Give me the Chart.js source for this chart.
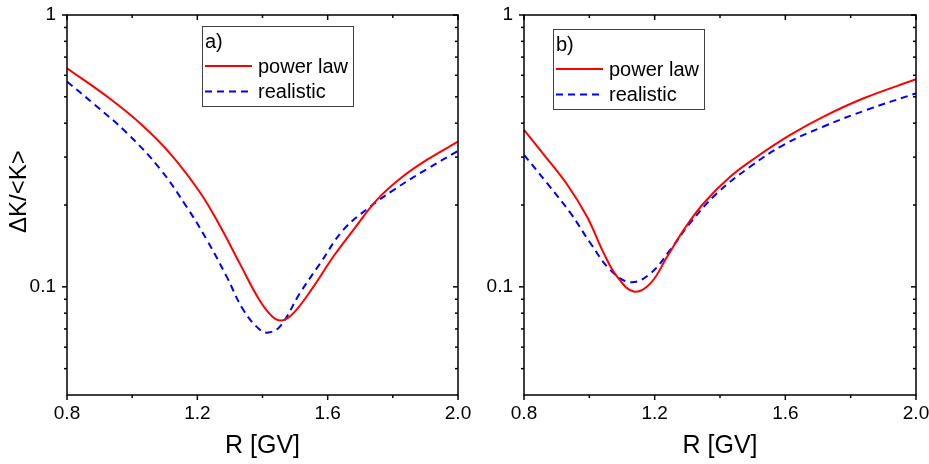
<!DOCTYPE html>
<html>
<head>
<meta charset="utf-8">
<script src="https://cdn.jsdelivr.net/npm/chart.js@4/dist/chart.umd.min.js"></script>
<style>
  body { margin: 0; background: #fff; }
  canvas { position: absolute; top: 0; }
  #chartA { left: 0; }
  #chartB { left: 470px; }
</style>
</head>
<body>
<canvas id="chartA" width="480" height="464"></canvas>
<canvas id="chartB" width="459" height="464"></canvas>
<script>
// ---- dati ----

// pannello a)
var rA_pow  = [0.80, 0.93, 1.03, 1.12, 1.21, 1.27, 1.33, 1.39, 1.43, 1.46, 1.495, 1.556, 1.617, 1.679, 1.751, 1.822, 1.904, 2.0];
var kA_pow  = [0.637, 0.494, 0.394, 0.306, 0.221, 0.167, 0.122, 0.0896, 0.0778, 0.0752, 0.080, 0.100, 0.129, 0.162, 0.209, 0.250, 0.293, 0.342];
var rA_real = [0.80, 0.881, 0.983, 1.085, 1.167, 1.229, 1.290, 1.341, 1.392, 1.418, 1.454, 1.515, 1.577, 1.648, 1.730, 1.802, 1.904, 2.0];
var kA_real = [0.569, 0.472, 0.369, 0.272, 0.197, 0.149, 0.109, 0.0823, 0.0695, 0.0679, 0.0715, 0.0948, 0.122, 0.162, 0.197, 0.227, 0.271, 0.316];

// pannello b)
var rB_pow  = [0.80, 0.860, 0.932, 0.993, 1.044, 1.085, 1.136, 1.187, 1.238, 1.289, 1.350, 1.431, 1.513, 1.615, 1.717, 1.840, 2.0];
var kB_pow  = [0.378, 0.307, 0.238, 0.181, 0.133, 0.109, 0.0961, 0.103, 0.129, 0.162, 0.203, 0.254, 0.301, 0.362, 0.423, 0.494, 0.580];
var rB_real = [0.80, 0.870, 0.942, 1.003, 1.064, 1.125, 1.187, 1.248, 1.309, 1.391, 1.493, 1.595, 1.717, 1.850, 2.0];
var kB_real = [0.306, 0.241, 0.187, 0.145, 0.1155, 0.104, 0.112, 0.137, 0.172, 0.221, 0.277, 0.333, 0.389, 0.448, 0.515];

// tacche degli assi
var xMajor = [0.8, 1.2, 1.6, 2.0];
var xMinor = [1.0, 1.4, 1.8];
var yMajor = [0.1, 1];
var yMinor = [0.05, 0.06, 0.07, 0.08, 0.09, 0.2, 0.3, 0.4, 0.5, 0.6, 0.7, 0.8, 0.9];

var labelPow = 'power law';
var labelReal = 'realistic';

var FONT = '"Liberation Sans", Arial, sans-serif';


//#### cornice e tacche (esterne su basso/sinistra, interne su alto/destra)
var frameTicks = {
  id: 'frameTicks',
  afterDraw: function(chart) {
    var ctx = chart.ctx, a = chart.chartArea;
    var sx = chart.scales.x, sy = chart.scales.y;

    function seg(x1, y1, x2, y2) {
      ctx.beginPath();
      ctx.moveTo(x1, y1);
      ctx.lineTo(x2, y2);
      ctx.stroke();
    }

    ctx.save();
    ctx.strokeStyle = '#000';
    ctx.lineWidth = 1.5;
    ctx.strokeRect(a.left, a.top, a.right - a.left, a.bottom - a.top);

    function xTicks(list, len) {
      list.forEach(function(v) {
        var p = sx.getPixelForValue(v);
        seg(p, a.bottom, p, a.bottom + len);
        seg(p, a.top, p, a.top + len);
      });
    }
    function yTicks(list, len) {
      list.forEach(function(v) {
        var p = sy.getPixelForValue(v);
        seg(a.left - len, p, a.left, p);
        seg(a.right - len, p, a.right, p);
      });
    }
    xTicks(xMajor, 5);
    xTicks(xMinor, 3);
    yTicks(yMajor, 5);
    yTicks(yMinor, 3);
    ctx.restore();
  }
};


//#### legenda disegnata dentro il riquadro
var boxLegend = {
  id: 'boxLegend',
  afterDraw: function(chart, args, opts) {
    var ctx = chart.ctx, a = chart.chartArea;
    var x = a.left + opts.dx, y = a.top + opts.dy;

    ctx.save();
    ctx.fillStyle = '#fff';
    ctx.fillRect(x, y, opts.w, opts.h);
    ctx.strokeStyle = '#404040';
    ctx.lineWidth = 1;
    ctx.strokeRect(x + 0.5, y + 0.5, opts.w, opts.h);

    ctx.font = '20px ' + FONT;
    ctx.fillStyle = '#000';
    ctx.textBaseline = 'middle';
    ctx.textAlign = 'left';
    ctx.fillText(opts.tag, x + 3, y + 16);

    chart.data.datasets.forEach(function(ds, i) {
      var ly = y + 40 + i * 25.5;
      ctx.strokeStyle = ds.borderColor;
      ctx.lineWidth = 2;
      ctx.setLineDash(ds.borderDash || []);
      ctx.beginPath();
      ctx.moveTo(x + 3, ly);
      ctx.lineTo(x + 50, ly);
      ctx.stroke();
      ctx.setLineDash([]);
      ctx.fillText(ds.label, x + 56, ly + 1);
    });
    ctx.restore();
  }
};


function toPoints(xs, ys) {
  return xs.map(function(v, i) { return { x: v, y: ys[i] }; });
}


function printPanel(id, rPow, kPow, rReal, kReal, tag, yWidth, showYTitle, pad, legendPos) {

  return new Chart(document.getElementById(id), {
    type: 'line',
    data: {
      datasets: [{
        label: labelPow,
        data: toPoints(rPow, kPow),
        borderColor: '#ff0000',
        borderWidth: 2,
        pointRadius: 0,
        tension: 0.4
      },
      {
        label: labelReal,
        data: toPoints(rReal, kReal),
        borderColor: '#0000ff',
        borderWidth: 2,
        borderDash: [7, 5],
        pointRadius: 0,
        tension: 0.4
      }]
    },
    options: {
      responsive: false,
      animation: false,
      devicePixelRatio: 1,
      layout: { padding: pad },
      plugins: {
        legend: { display: false },
        tooltip: { enabled: false },
        boxLegend: { dx: legendPos[0], dy: legendPos[1], w: 151, h: 80, tag: tag }
      },
      scales: {
        x: {
          type: 'linear',
          min: 0.8,
          max: 2.0,
          grid: { display: false, drawTicks: false },
          border: { display: false },
          afterBuildTicks: function(s) { s.ticks = xMajor.map(function(v) { return { value: v }; }); },
          afterFit: function(s) { s.height = 69; s.paddingLeft = 0; s.paddingRight = 0; },
          ticks: {
            padding: 7,
            color: '#000',
            font: { family: FONT, size: 19 },
            maxRotation: 0,
            autoSkip: false,
            callback: function(v) { return Number(v).toFixed(1); }
          },
          title: {
            display: true,
            text: 'R [GV]',
            color: '#000',
            font: { family: FONT, size: 25 },
            padding: { top: 0, bottom: 3 }
          }
        },
        y: {
          type: 'logarithmic',
          min: 0.04,
          max: 1,
          grid: { display: false, drawTicks: false },
          border: { display: false },
          afterBuildTicks: function(s) { s.ticks = yMajor.map(function(v) { return { value: v }; }); },
          afterFit: function(s) { s.width = yWidth; s.paddingTop = 0; s.paddingBottom = 0; },
          ticks: {
            padding: 11,
            color: '#000',
            font: { family: FONT, size: 19 },
            autoSkip: false,
            callback: function(v) { return String(v); }
          },
          title: {
            display: showYTitle,
            // spazi iniziali: il titolo nel grafico sta un po' sopra il centro
            text: '    ΔK/<K>',
            color: '#000',
            font: { family: FONT, size: 24 },
            padding: { top: 5, bottom: 0 }
          }
        }
      }
    },
    plugins: [frameTicks, boxLegend]
  });
}


printPanel('chartA', rA_pow, kA_pow, rA_real, kA_real, 'a)', 67, true,
  { top: 15, right: 22, left: 0, bottom: 0 }, [135, 11]);
printPanel('chartB', rB_pow, kB_pow, rB_real, kB_real, 'b)', 54, false,
  { top: 15, right: 13, left: 0, bottom: 0 }, [29, 14]);
</script>
</body>
</html>
